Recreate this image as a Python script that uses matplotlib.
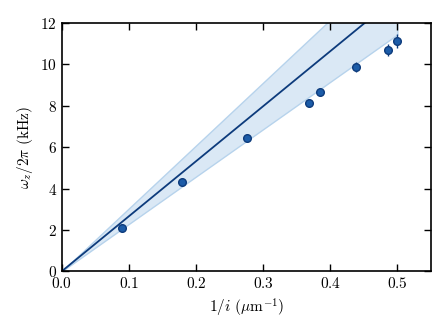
import numpy as np
import matplotlib
matplotlib.use("Agg")
import matplotlib.pyplot as plt

plt.rcParams['font.family'] = 'serif'
plt.rcParams['font.serif'] = ['cmr10']
plt.rcParams['mathtext.fontset'] = 'cm'
plt.rcParams['axes.formatter.use_mathtext'] = True
plt.rcParams['font.size'] = 11

# measured points
inv_i = [0.0905, 0.179, 0.276, 0.369, 0.385, 0.439, 0.486, 0.499]
omega = [2.11, 4.34, 6.45, 8.16, 8.68, 9.89, 10.69, 11.13]
omega_err = [0.12, 0.12, 0.12, 0.15, 0.18, 0.25, 0.3, 0.32]

# fitted slope and band limits (kHz * um)
slope_fit = 26.6
slope_hi = 30.4
slope_lo = 22.9

fig, ax = plt.subplots(figsize=(4.47, 3.35), dpi=100)

xb = np.linspace(0, 0.5, 50)
ax.fill_between(xb, slope_lo * xb, slope_hi * xb, facecolor='#dae8f5',
                edgecolor='#b7d3ec', linewidth=1.0)
xl = np.linspace(0, 0.55, 50)
ax.plot(xl, slope_fit * xl, color='#0d3b7c', lw=1.3)

ax.errorbar(inv_i, omega, yerr=omega_err, fmt='o', ms=5.5,
            color='#0d3b7c', mfc='#1c5ca8', mec='#0d3b7c', mew=1.0,
            elinewidth=1.0, capsize=0)

ax.set_xlim(0, 0.55)
ax.set_ylim(0, 12)
ax.set_xticks([0.0, 0.1, 0.2, 0.3, 0.4, 0.5])
ax.set_yticks([0, 2, 4, 6, 8, 10, 12])
ax.tick_params(direction='in', top=True, right=True, length=5, width=1)
for s in ax.spines.values():
    s.set_linewidth(1.2)

ax.set_xlabel(r'$1/i$ ($\mu$m$^{-1}$)')
ax.set_ylabel(r'$\omega_z/2\pi$ (kHz)')

fig.subplots_adjust(left=0.138, right=0.964, top=0.931, bottom=0.19)
fig.savefig('out.png', dpi=100)
